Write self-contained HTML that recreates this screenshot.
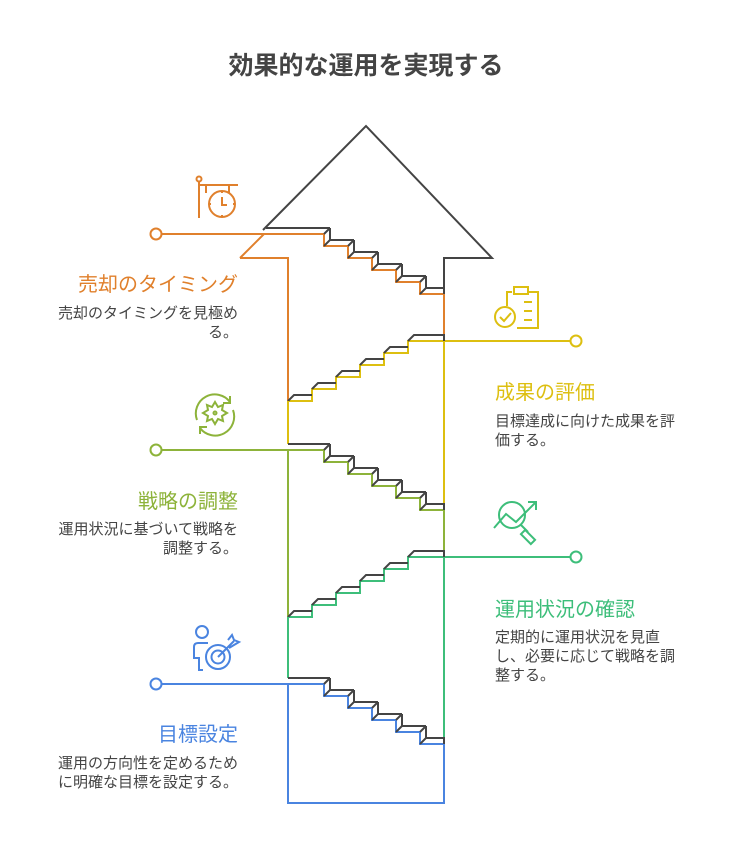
<!DOCTYPE html>
<html><head><meta charset="utf-8">
<style>
html,body{margin:0;padding:0;background:#fff;}
body{width:732px;height:864px;overflow:hidden;position:relative;font-family:"Liberation Sans","Noto Sans CJK JP",sans-serif;}
.t{position:absolute;white-space:nowrap;}
.title{left:0;width:732px;text-align:center;top:46px;font-size:25px;font-weight:bold;color:#444;}
.h{font-size:20px;}
.d{font-size:15px;color:#444;line-height:19px;}
.r{text-align:right;right:494px;}
.l{left:495px;}
</style></head><body>
<svg id="s" width="732" height="864" style="position:absolute;left:0;top:0" fill="none" stroke-width="2" stroke-linejoin="miter"></svg>

<div class="t title">効果的な運用を実現する</div>

<div class="t h r" style="top:268px;color:#E0802C">売却のタイミング</div>
<div class="t d r" style="top:304px">売却のタイミングを見極め<br>る。</div>

<div class="t h l" style="top:376px;color:#DDBF10">成果の評価</div>
<div class="t d l" style="top:412px">目標達成に向けた成果を評<br>価する。</div>

<div class="t h r" style="top:485px;color:#8DB33A">戦略の調整</div>
<div class="t d r" style="top:520px">運用状況に基づいて戦略を<br>調整する。</div>

<div class="t h l" style="top:593px;color:#3DBE7A">運用状況の確認</div>
<div class="t d l" style="top:628px">定期的に運用状況を見直<br>し、必要に応じて戦略を調<br>整する。</div>

<div class="t h r" style="top:718px;color:#4A84E0">目標設定</div>
<div class="t d r" style="top:754px">運用の方向性を定めるため<br>に明確な目標を設定する。</div>

<script>
var s=document.getElementById('s'),D='#444',html='';
function p(d,c){html+='<path d="'+d+'" stroke="'+c+'"/>';}
function down(y0,c,sx){
  var d='M156,'+y0+' H324';
  for(var k=0;k<5;k++){var x=324+24*k,y=y0+12*k;d+=' V'+(y+12)+' H'+(x+24);}
  p(d,c);
  var dd='';
  for(var k=0;k<5;k++){var x=324+24*k,y=y0+12*k,st=k==0?sx:x-18;
    dd+='M'+st+','+(y-6)+' H'+(x+6)+' M'+(x+6)+','+(y-6)+' L'+x+','+y+' M'+(x+6)+','+(y-6)+' V'+(y+6)+' L'+x+','+(y+12)+' ';}
  dd+='M426,'+(y0+54)+' H444 V'+(y0+60);
  p(dd,D);
}
function up(y0,c){
  var d='M288,'+y0;
  for(var k=0;k<5;k++){var x=288+24*k,y=y0-12*k;d+=' H'+(x+24)+' V'+(y-12);}
  d+=' H576';p(d,c);
  var dd='';
  for(var k=0;k<6;k++){var x=288+24*k,y=y0-12*k;
    dd+='M'+x+','+y+' L'+(x+6)+','+(y-6)+' H'+(k==5?444:x+24)+' ';}
  dd+='V'+(y0-60);
  p(dd,D);
}
p('M263,230 L366,126 L492,258 H444 V288',D);
down(234,'#E0802C',266);
p('M240,258 L264,234 M240,258 H288 V401 M444,294 V341','#E0802C');
up(401,'#DDBF10');
p('M288,401 V444 M444,341 V504','#DDBF10');
down(450,'#8DB33A',288);
p('M288,450 V617 M444,510 V557','#8DB33A');
up(617,'#3DBE7A');
p('M288,617 V678 M444,557 V738','#3DBE7A');
down(684,'#4A84E0',288);
p('M288,684 V803 H444 V744','#4A84E0');
function circ(x,y,c){html+='<circle cx="'+x+'" cy="'+y+'" r="5.5" fill="#fff" stroke="'+c+'"/>';}
circ(156,234,'#E0802C');circ(576,341,'#DDBF10');circ(156,450,'#8DB33A');circ(576,557,'#3DBE7A');circ(156,684,'#4A84E0');
html+='<g stroke="#E0802C"><circle cx="199" cy="179" r="2.5"/><path d="M199,182 V218 M199,185 H238 M206,185 V193 M229,185 V193"/><circle cx="222" cy="204" r="13"/><path d="M222,197 V205 H227 M222,191 V193 M222,215 V217 M209,204 H211 M233,204 H235"/></g>';
html+='<g stroke="#DDBF10"><path d="M512,292 H507 V306 M528,292 H538 V328 H517"/><rect x="514" y="287" width="14" height="7"/><path d="M524,302 H532 M524,311 H532 M524,320 H532"/><circle cx="505" cy="317" r="10"/><path d="M500,317 L504,321 L511,313"/></g>';
html+='<g stroke="#8DB33A"><path d="M197,420 A19,19 0 0 1 230,402 M230,396 V403 H223 M233,410 A19,19 0 0 1 200,428 M200,434 V427 H207"/><path d="M215,402 L218,407 L223,405 L222,410 L227,413 L222,416 L223,421 L218,419 L215,424 L212,419 L207,421 L208,416 L203,413 L208,410 L207,405 L212,407 Z"/><circle cx="215" cy="413" r="1.5"/></g>';
html+='<g stroke="#3DBE7A"><circle cx="512" cy="515" r="13"/><path d="M521,525 L528,532"/><rect x="525" y="530" width="6" height="14" transform="rotate(-45 528 537)"/><path d="M494,528 L506,514 L516,522 L536,502 M528,502 H536 V510"/></g>';
html+='<g stroke="#4A84E0"><circle cx="202" cy="632" r="6"/><path d="M208,643 H198 Q194,643 194,647 V658 H199 V670 H203"/><circle cx="218" cy="657" r="12"/><circle cx="218" cy="657" r="6.5"/><path d="M218,657 L234,641 M228,640 L232,635 L234,640 L239,642 L234,645 L229,648"/></g>';
s.innerHTML=html;
</script>
</body></html>
